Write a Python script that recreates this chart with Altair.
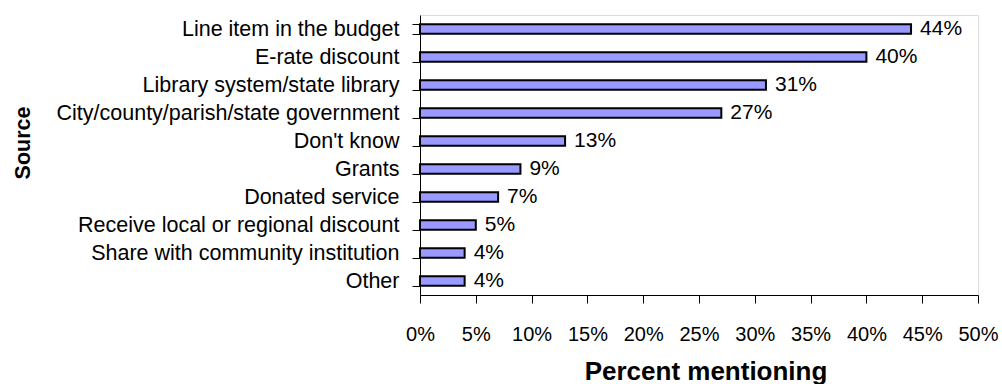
import altair as alt
import pandas as pd

sources = [
    "Line item in the budget",
    "E-rate discount",
    "Library system/state library",
    "City/county/parish/state government",
    "Don't know",
    "Grants",
    "Donated service",
    "Receive local or regional discount",
    "Share with community institution",
    "Other",
]
percents = [44, 40, 31, 27, 13, 9, 7, 5, 4, 4]
tick_values = [0, 5, 10, 15, 20, 25, 30, 35, 40, 45, 50]

df = pd.DataFrame({"source": sources, "pct": percents})
df["label"] = [f"{v}%" for v in percents]

FONT = "Liberation Sans"

y_enc = alt.Y(
    "source:N",
    sort=sources,
    scale=alt.Scale(paddingInner=0.66, paddingOuter=0.33),
    axis=alt.Axis(
        title="Source",
        titleFont=FONT,
        titleFontSize=21.5,
        titleFontWeight="bold",
        titleColor="black",
        titleAngle=270,
        titleAlign="center",
        titleBaseline="middle",
        titleX=-397,
        titleY=127.5,
        labelFont=FONT,
        labelFontSize=21.5,
        labelColor="black",
        labelPadding=13,
        labelLimit=400,
        tickSize=8,
        tickBand="extent",
        tickColor="black",
        domainColor="black",
        grid=False,
    ),
)

x_enc = alt.X(
    "pct:Q",
    scale=alt.Scale(domain=[0, 50], nice=False),
    axis=alt.Axis(
        values=tick_values,
        labelExpr="datum.value + '%'",
        title="Percent mentioning",
        titleFont=FONT,
        titleFontSize=26,
        titleFontWeight="bold",
        titleColor="black",
        titleAlign="center",
        titleBaseline="alphabetic",
        titleX=285.5,
        titleY=84,
        labelFont=FONT,
        labelFontSize=20,
        labelColor="black",
        labelPadding=21,
        labelFlush=False,
        labelOverlap=False,
        tickSize=8,
        tickColor="black",
        domainColor="black",
        grid=False,
    ),
)

bars = alt.Chart(df).mark_bar(
    color="#9999FF", stroke="black", strokeWidth=2
).encode(x=x_enc, y=y_enc)

labels = alt.Chart(df).mark_text(
    align="left", baseline="middle", dx=9, font=FONT, fontSize=21, color="black"
).encode(
    x=alt.X("pct:Q"),
    y=alt.Y("source:N", sort=sources),
    text="label:N",
)

chart = (
    alt.layer(bars, labels)
    .properties(
        width=558,
        height=280,
        autosize=alt.AutoSizeParams(type="none"),
        padding={"left": 420, "top": 15, "right": 24, "bottom": 89},
    )
    .configure_view(stroke=None)
    .configure(background="white")
)

chart.save("out.html", embed_options={"renderer": "svg", "actions": False})
